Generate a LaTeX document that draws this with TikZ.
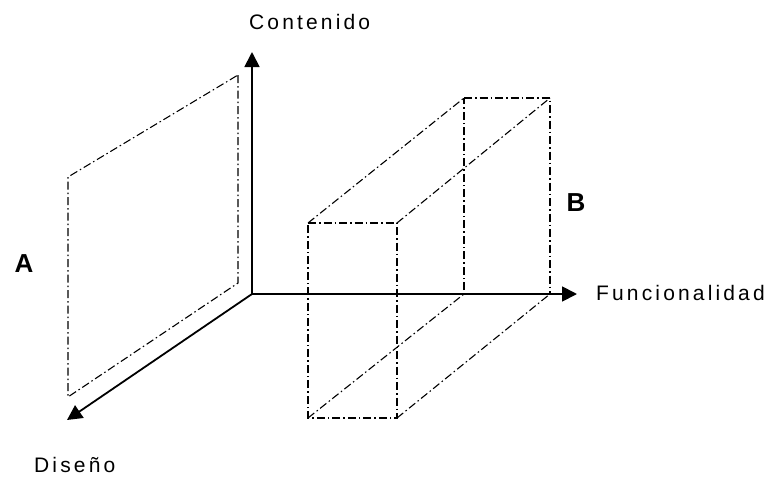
\documentclass[tikz,border=0pt]{standalone}
\usepackage{fontspec}
\setmainfont{Liberation Sans}
\newfontfamily\axisfont[LetterSpace=15]{Liberation Sans}
\usetikzlibrary{arrows.meta}

\begin{document}
\begin{tikzpicture}[x=1pt, y=-1pt,
    axis/.style={line width=1.8pt, -{Triangle[length=15pt, width=15pt]}},
    edge/.style={line width=1.1pt, dash pattern=on 8pt off 3pt on 1.5pt off 3pt},
    axislabel/.style={font=\axisfont\fontsize{21}{24}\selectfont, inner sep=0pt},
    zonelabel/.style={font=\bfseries\fontsize{26}{30}\selectfont, inner sep=0pt}]
      \useasboundingbox (0,0) rectangle (769,477);
      % axes
      \coordinate (o) at (252,294);
      \coordinate (up) at (252,52);
      \coordinate (right) at (577,294);
      \coordinate (down) at (67,420);
      \draw[axis] (o) -- (up);
      \draw[axis] (o) -- (right);
      \draw[axis] (o) -- (down);
      \node[axislabel, anchor=west] (cont) at (249,22) {Contenido};
      \node[axislabel, anchor=west] (func) at (596,293) {Funcionalidad};
      \node[axislabel, anchor=west] (dis) at (34,465) {Diseño};
      % plane A
      \coordinate (a1) at (238,75);
      \coordinate (a2) at (238,283);
      \coordinate (a3) at (68,397);
      \coordinate (a4) at (68,177);
      \draw[edge] (a1) -- (a2) -- (a3) -- (a4) -- cycle;
      \node[zonelabel] (A) at (24,264) {A};
      % box B
      \coordinate (f1) at (308,223);
      \coordinate (f2) at (397,223);
      \coordinate (f3) at (397,418);
      \coordinate (f4) at (308,418);
      \coordinate (b1) at (464,98);
      \coordinate (b2) at (550,98);
      \coordinate (b3) at (550,294);
      \coordinate (b4) at (464,294);
      \draw[edge] (f1) -- (f2) -- (f3) -- (f4) -- cycle;
      \draw[edge] (b1) -- (b2) -- (b3) -- (b4) -- cycle;
      \foreach \i in {1,...,4}
        \draw[edge] (f\i) -- (b\i);
      \node[zonelabel] (B) at (576,203) {B};
\end{tikzpicture}
\end{document}
